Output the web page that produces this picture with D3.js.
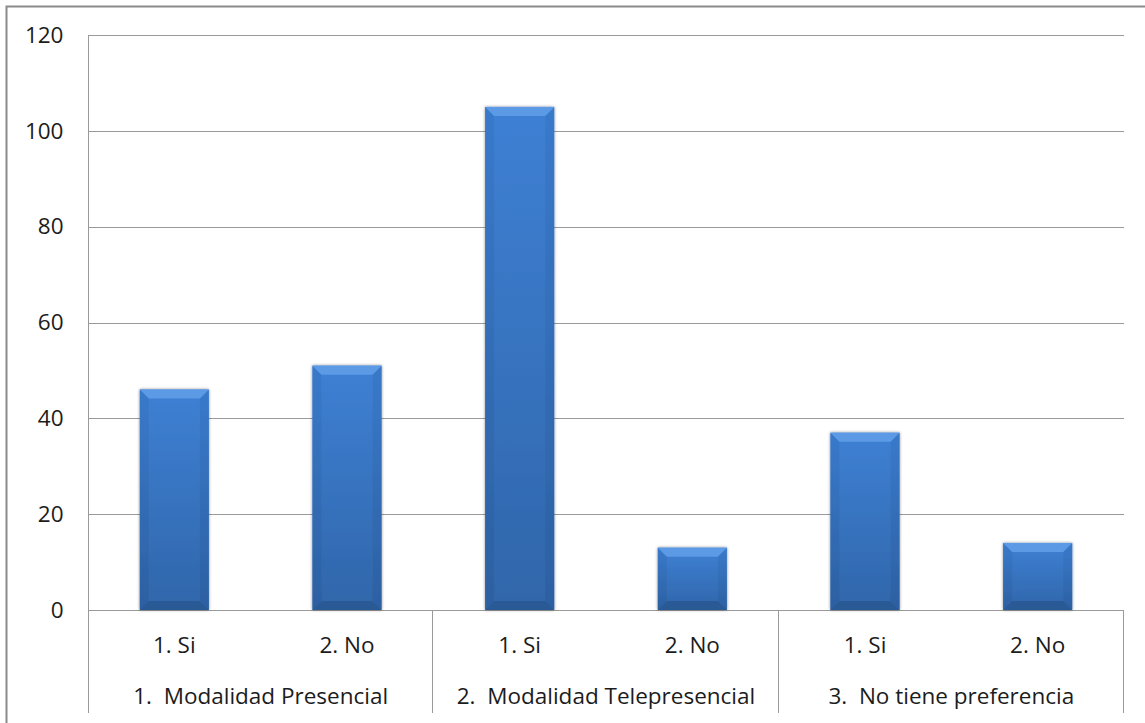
<!DOCTYPE html>
<html>
<head>
<meta charset="utf-8">
<script src="https://cdn.jsdelivr.net/npm/d3@7/dist/d3.min.js"></script>
<style>
  html, body { margin: 0; padding: 0; background: #fff; }
  svg { display: block; }
  text { font-family: "Open Sans", Lato, "Liberation Sans", sans-serif; fill: #1c1c1c; }
</style>
</head>
<body>
<svg id="chart" width="1145" height="723"></svg>
<script>
// Survey answers, grouped by preferred modality
const answers = ["1. Si", "2. No", "1. Si", "2. No", "1. Si", "2. No"];
const counts = [46, 51, 105, 13, 37, 14];
const groups = ["1.  Modalidad Presencial", "2.  Modalidad Telepresencial", "3.  No tiene preferencia"];
const groupSize = [2, 2, 2];
const yTicks = [0, 20, 40, 60, 80, 100, 120];

(function () {
const svg = d3.select("#chart");
const W = 1145, H = 723;
const plotLeft = 88, plotRight = 1124, plotTop = 35, plotBottom = 610;
const fontSize = "22.5px";

// outer frame
svg.append("rect")
  .attr("x", 6.5).attr("y", 6.5)
  .attr("width", W + 20).attr("height", H + 20)
  .attr("fill", "#fff").attr("stroke", "#8a8a8a").attr("stroke-width", 2);

const x = d3.scaleBand()
  .domain(d3.range(counts.length))
  .range([plotLeft, plotRight])
  .paddingInner(0.6)
  .paddingOuter(0.3);

const y = d3.scaleLinear().domain([0, 120]).range([plotBottom, plotTop]);

// horizontal gridlines
svg.append("g")
  .selectAll("line")
  .data(yTicks)
  .join("line")
  .attr("x1", plotLeft).attr("x2", plotRight)
  .attr("y1", d => Math.round(y(d)) + 0.5).attr("y2", d => Math.round(y(d)) + 0.5)
  .attr("stroke", "#9a9a9a").attr("stroke-width", 1);

// y axis with labels on the left
const yAxis = d3.axisLeft(y).tickValues(yTicks).tickSize(0).tickPadding(25);
const gy = svg.append("g").attr("transform", `translate(${plotLeft + 0.5},0)`).call(yAxis);
gy.select(".domain").remove();
gy.selectAll("text")
  .attr("font-size", fontSize)
  .attr("fill", "#1c1c1c")
  .style("font-family", "'Open Sans', Lato, sans-serif");

// category axis frame: vertical axis line and group separators
const axisBottomEnd = 713;
svg.append("line")
  .attr("x1", plotLeft + 0.5).attr("x2", plotLeft + 0.5)
  .attr("y1", plotTop).attr("y2", axisBottomEnd)
  .attr("stroke", "#9a9a9a");

let idx = 0;
const groupBounds = groupSize.map(n => {
  const start = idx; idx += n;
  const step = x.step();
  const x0 = x(start) - x.paddingOuter() * step;
  const x1 = x(start + n - 1) + x.bandwidth() + x.paddingOuter() * step;
  return [x0, x1];
});

svg.append("g")
  .selectAll("line")
  .data(groupBounds)
  .join("line")
  .attr("x1", d => Math.round(d[1]) - 0.5).attr("x2", d => Math.round(d[1]) - 0.5)
  .attr("y1", plotBottom).attr("y2", axisBottomEnd)
  .attr("stroke", "#9a9a9a");

// bar gradients
const defs = svg.append("defs");
const mainGrad = defs.append("linearGradient").attr("id", "barFill")
  .attr("x1", 0).attr("y1", 0).attr("x2", 0).attr("y2", 1);
mainGrad.append("stop").attr("offset", "0%").attr("stop-color", "#3e80d4");
mainGrad.append("stop").attr("offset", "100%").attr("stop-color", "#3066aa");

const sideGrad = defs.append("linearGradient").attr("id", "sideFill")
  .attr("x1", 0).attr("y1", 0).attr("x2", 0).attr("y2", 1);
sideGrad.append("stop").attr("offset", "0%").attr("stop-color", "#3675c4");
sideGrad.append("stop").attr("offset", "100%").attr("stop-color", "#2a5c9c");

const shadow = defs.append("filter").attr("id", "barShadow")
  .attr("x", "-20%").attr("y", "-20%").attr("width", "140%").attr("height", "140%");
shadow.append("feGaussianBlur").attr("in", "SourceAlpha").attr("stdDeviation", 1.6).attr("result", "b");
shadow.append("feComponentTransfer").attr("in", "b").attr("result", "s")
  .append("feFuncA").attr("type", "linear").attr("slope", 0.45);
const merge = shadow.append("feMerge");
merge.append("feMergeNode").attr("in", "s");
merge.append("feMergeNode").attr("in", "SourceGraphic");

// bars with bevelled edges
const bev = 9;
const bars = svg.append("g")
  .selectAll("g")
  .data(counts)
  .join("g")
  .attr("filter", "url(#barShadow)");

bars.append("rect")
  .attr("x", (d, i) => x(i))
  .attr("y", d => y(d))
  .attr("width", x.bandwidth())
  .attr("height", d => y(0) - y(d))
  .attr("fill", "url(#barFill)");

// left bevel
bars.append("polygon")
  .attr("points", (d, i) => {
    const x0 = x(i), y0 = y(d), y1 = y(0);
    return [[x0, y0], [x0 + bev, y0 + bev], [x0 + bev, y1 - bev], [x0, y1]].join(" ");
  })
  .attr("fill", "url(#sideFill)").attr("opacity", 0.6);

// right bevel
bars.append("polygon")
  .attr("points", (d, i) => {
    const x1 = x(i) + x.bandwidth(), y0 = y(d), y1 = y(0);
    return [[x1, y0], [x1 - bev, y0 + bev], [x1 - bev, y1 - bev], [x1, y1]].join(" ");
  })
  .attr("fill", "url(#sideFill)").attr("opacity", 0.6);

// top bevel (highlight)
bars.append("polygon")
  .attr("points", (d, i) => {
    const x0 = x(i), x1 = x0 + x.bandwidth(), y0 = y(d);
    return [[x0, y0], [x1, y0], [x1 - bev, y0 + bev], [x0 + bev, y0 + bev]].join(" ");
  })
  .attr("fill", "#5b9ae5");

// bottom bevel (shade)
bars.append("polygon")
  .attr("points", (d, i) => {
    const x0 = x(i), x1 = x0 + x.bandwidth(), y1 = y(0);
    return [[x0, y1], [x1, y1], [x1 - bev, y1 - bev], [x0 + bev, y1 - bev]].join(" ");
  })
  .attr("fill", "#2a5a96");

// answer labels
svg.append("g")
  .selectAll("text")
  .data(answers)
  .join("text")
  .attr("x", (d, i) => x(i) + x.bandwidth() / 2)
  .attr("y", 653)
  .attr("text-anchor", "middle")
  .attr("font-size", fontSize)
  .text(d => d);

// group labels
svg.append("g")
  .selectAll("text")
  .data(groups)
  .join("text")
  .attr("x", (d, i) => (groupBounds[i][0] + groupBounds[i][1]) / 2)
  .attr("y", 704)
  .attr("text-anchor", "middle")
  .attr("font-size", fontSize)
  .style("white-space", "pre")
  .text(d => d);
})();
</script>
</body>
</html>
